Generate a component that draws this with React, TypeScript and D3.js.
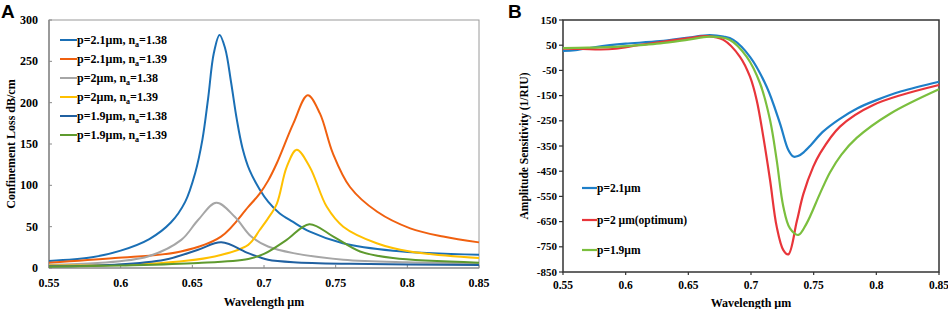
import React from "react";
import * as d3 from "d3";

// ---------- Panel A data (wavelength µm, confinement loss dB/cm) ----------
const a1_x = [0.55, 0.58, 0.6, 0.62, 0.635, 0.645, 0.652, 0.657, 0.661, 0.665, 0.669, 0.673, 0.677, 0.681, 0.685, 0.69, 0.697, 0.703, 0.711, 0.72, 0.732, 0.755, 0.79, 0.85];
const a1_y = [8.5, 13, 21, 35, 55, 80, 115, 155, 205, 260, 282, 265, 225, 180, 145, 118, 95, 80, 66, 56, 44, 30, 21, 16];

const a2_x = [0.55, 0.596, 0.642, 0.67, 0.689, 0.697, 0.703, 0.709, 0.7205, 0.7305, 0.739, 0.748, 0.76, 0.779, 0.802, 0.825, 0.85];
const a2_y = [6.5, 12, 20, 38, 74, 90, 106, 127, 175, 209, 187, 139, 98, 68, 48, 38, 31];

const a3_x = [0.55, 0.584, 0.619, 0.6423, 0.654, 0.6667, 0.6796, 0.6911, 0.7028, 0.7205, 0.7553, 0.8, 0.85];
const a3_y = [4, 6, 14, 34, 58, 79, 62, 38, 26, 18, 10, 7, 6];

const a4_x = [0.55, 0.619, 0.6656, 0.689, 0.697, 0.7028, 0.709, 0.7158, 0.7228, 0.732, 0.7438, 0.7553, 0.7786, 0.8019, 0.85];
const a4_y = [3, 5, 14, 28, 46, 60, 78, 122, 143, 122, 74, 50, 30, 20, 12];

const a5_x = [0.55, 0.596, 0.6307, 0.654, 0.6702, 0.689, 0.697, 0.7028, 0.7205, 0.76, 0.85];
const a5_y = [2, 4, 10, 22, 31, 18, 13, 10, 7, 5, 3.5];

const a6_x = [0.55, 0.6, 0.654, 0.689, 0.7, 0.7158, 0.7316, 0.7484, 0.767, 0.79, 0.85];
const a6_y = [1.5, 3, 6, 11, 17, 34, 53, 38, 20, 12, 6.5];

const aLabels = [
  ["p=2.1µm, n", "=1.38"],
  ["p=2.1µm, n", "=1.39"],
  ["p=2µm, n", "=1.38"],
  ["p=2µm, n", "=1.39"],
  ["p=1.9µm, n", "=1.38"],
  ["p=1.9µm, n", "=1.39"],
];
const aColors = ["#1a6fb5", "#f0600f", "#a6a6a6", "#ffc000", "#2060a0", "#5e9a2e"];
const aTicksX = [0.55, 0.6, 0.65, 0.7, 0.75, 0.8, 0.85];
const aTicksY = [0, 50, 100, 150, 200, 250, 300];

// ---------- Panel B data (wavelength µm, amplitude sensitivity 1/RIU) ----------
const b1_x = [0.55, 0.56, 0.575, 0.5875, 0.6, 0.6274, 0.65, 0.667, 0.678, 0.6859, 0.6992, 0.7125, 0.7231, 0.7298, 0.7338, 0.7375, 0.742, 0.748, 0.757, 0.77, 0.785, 0.8, 0.82, 0.85];
const b1_y = [27, 30, 42, 50, 56, 66, 80, 90, 84, 71, 4, -115, -260, -366, -392, -390, -375, -345, -295, -245, -200, -168, -133, -95];

const b2_x = [0.55, 0.565, 0.58, 0.592, 0.61, 0.6274, 0.65, 0.665, 0.678, 0.6912, 0.6992, 0.7045, 0.7098, 0.7152, 0.7205, 0.7258, 0.7298, 0.7365, 0.7418, 0.7497, 0.7551, 0.771, 0.7976, 0.85];
const b2_y = [36, 35, 33, 36, 50, 62, 78, 86, 71, 4, -75, -167, -313, -485, -670, -763, -780, -650, -540, -432, -379, -273, -187, -108];

const b3_x = [0.55, 0.57, 0.59, 0.61, 0.6274, 0.65, 0.667, 0.6832, 0.6966, 0.7072, 0.7152, 0.7205, 0.7258, 0.7311, 0.7378, 0.7444, 0.7551, 0.763, 0.772, 0.7843, 0.811, 0.85];
const b3_y = [38, 40, 43, 50, 57, 72, 84, 71, 4, -101, -247, -406, -591, -677, -703, -657, -538, -455, -385, -318, -222, -125];

const bLabels = ["p=2.1µm", "p=2 µm(optimum)", "p=1.9µm"];
const bColors = ["#1e7fc8", "#e8353a", "#7bbf3e"];
const bTicksX = [0.55, 0.6, 0.65, 0.7, 0.75, 0.8, 0.85];
const bTicksY = [150, 50, -50, -150, -250, -350, -450, -550, -650, -750, -850];

const SERIF = '"Liberation Serif", "DejaVu Serif", "Times New Roman", serif';
const SANS = '"Liberation Sans", Arial, sans-serif';

const zip = (xs: number[], ys: number[]) => xs.map((x, i) => [x, ys[i]] as [number, number]);

export default function App() {
  const curve = d3.curveCatmullRom.alpha(0.5);
  // Panel A scales
  const ax = d3.scaleLinear().domain([0.55, 0.85]).range([49, 479]);
  const ay = d3.scaleLinear().domain([0, 300]).range([268, 20]);
  const aLine = d3.line<[number, number]>().x(d => ax(d[0])).y(d => ay(d[1])).curve(curve);
  const aSeries = [zip(a1_x, a1_y), zip(a2_x, a2_y), zip(a3_x, a3_y), zip(a4_x, a4_y), zip(a5_x, a5_y), zip(a6_x, a6_y)];

  // Panel B scales
  const bx = d3.scaleLinear().domain([0.55, 0.85]).range([563, 939]);
  const by = d3.scaleLinear().domain([-850, 150]).range([272, 20]);
  const bLine = d3.line<[number, number]>().x(d => bx(d[0])).y(d => by(d[1])).curve(curve);
  const bSeries = [zip(b1_x, b1_y), zip(b2_x, b2_y), zip(b3_x, b3_y)];

  const fmt = (v: number) => String(+v.toFixed(2));
  const T = { fontFamily: SERIF, fontWeight: 700 } as React.CSSProperties;

  return (
    <svg width={948} height={309} style={{ position: "absolute", left: 0, top: 0, background: "#fff" }}>
      <rect x={0} y={0} width={948} height={309} fill="#fff" />
      {/* ================= Panel A ================= */}
      <text x={1} y={18} style={{ fontFamily: SANS, fontWeight: 700 }} fontSize={19}>A</text>
      <rect x={49} y={20} width={430} height={248} fill="none" stroke="#9a9a9a" strokeWidth={1} />
      <line x1={49} x2={49} y1={20} y2={268} stroke="#8a8a8a" strokeWidth={1.5} />
      <line x1={49} x2={479} y1={268} y2={268} stroke="#9a9a9a" strokeWidth={1.5} />
      {aTicksY.map(t => (
        <g key={"ay" + t}>
          <line x1={49} x2={52} y1={ay(t)} y2={ay(t)} stroke="#8a8a8a" />
          <text x={38} y={ay(t) + 4} textAnchor="end" fontSize={12} style={T}>{t}</text>
        </g>
      ))}
      {aTicksX.map(t => (
        <g key={"ax" + t}>
          <line x1={ax(t)} x2={ax(t)} y1={268} y2={265} stroke="#8a8a8a" />
          <text x={ax(t)} y={287} textAnchor="middle" fontSize={12} style={T}>{fmt(t)}</text>
        </g>
      ))}
      <text x={264} y={306} textAnchor="middle" fontSize={12} style={T}>Wavelength µm</text>
      <text transform={`translate(15,144) rotate(-90)`} textAnchor="middle" fontSize={12} style={T}>Confinement Loss dB/cm</text>
      {aSeries.map((s, i) => (
        <path key={"as" + i} d={aLine(s) || ""} fill="none" stroke={aColors[i]} strokeWidth={2} />
      ))}
      {aLabels.map((l, i) => {
        const y = 40 + i * 19;
        return (
          <g key={"al" + i}>
            <line x1={60} x2={77} y1={y} y2={y} stroke={aColors[i]} strokeWidth={2} />
            <text x={77} y={y + 4} fontSize={12} style={T}>
              {l[0]}
              <tspan fontSize={8} dy={3}>a</tspan>
              <tspan dy={-3}>{l[1]}</tspan>
            </text>
          </g>
        );
      })}

      {/* ================= Panel B ================= */}
      <text x={508} y={18} style={{ fontFamily: SANS, fontWeight: 700 }} fontSize={19}>B</text>
      <rect x={563} y={20} width={376} height={252} fill="none" stroke="#333" strokeWidth={1.5} />
      {bTicksY.map(t => (
        <g key={"by" + t}>
          <line x1={559} x2={563} y1={by(t)} y2={by(t)} stroke="#333" strokeWidth={1.2} />
          <text x={557} y={by(t) + 3.5} textAnchor="end" fontSize={11} style={T}>{t}</text>
        </g>
      ))}
      {bTicksX.map(t => (
        <g key={"bx" + t}>
          <line x1={bx(t)} x2={bx(t)} y1={272} y2={275} stroke="#333" strokeWidth={1.2} />
          <text x={bx(t)} y={289} textAnchor="middle" fontSize={11.5} style={T}>{fmt(t)}</text>
        </g>
      ))}
      <text x={751} y={307} textAnchor="middle" fontSize={12} style={T}>Wavelength µm</text>
      <text transform={`translate(528,146) rotate(-90)`} textAnchor="middle" fontSize={11.5} style={T}>Amplitude Sensitivity (1/RIU)</text>
      {bSeries.map((s, i) => (
        <path key={"bs" + i} d={bLine(s) || ""} fill="none" stroke={bColors[i]} strokeWidth={2.2} />
      ))}
      {bLabels.map((l, i) => {
        const y = [188, 220, 250][i];
        return (
          <g key={"bl" + i}>
            <line x1={582} x2={597} y1={y} y2={y} stroke={bColors[i]} strokeWidth={2.2} />
            <text x={597} y={y + 4} fontSize={11.5} style={T}>{l}</text>
          </g>
        );
      })}
    </svg>
  );
}
